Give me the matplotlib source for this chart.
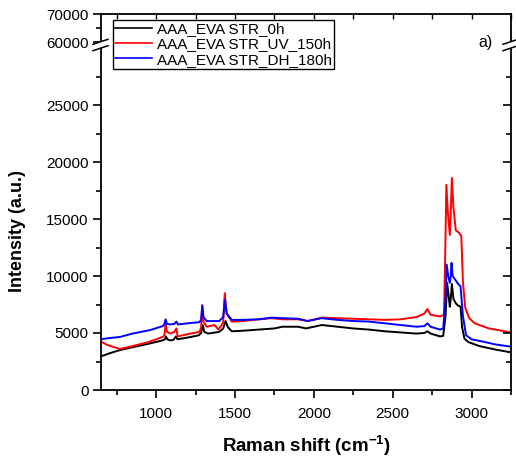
import matplotlib
matplotlib.use("Agg")
import matplotlib.pyplot as plt
from matplotlib.lines import Line2D
from matplotlib.ticker import MultipleLocator

plt.rcParams['font.family'] = ['Liberation Sans', 'DejaVu Sans']

# ---------------- data ----------------
x_0h = [650, 700, 770, 850, 950, 1040, 1055, 1062, 1070, 1090, 1110, 1125, 1135, 1200, 1270, 1285,
        1295, 1305, 1330, 1400, 1425, 1440, 1455, 1480, 1550, 1650, 1750, 1800, 1900, 1950, 2050,
        2150, 2250, 2350, 2450, 2550, 2650, 2700, 2720, 2740, 2800, 2820, 2835, 2845, 2855, 2862,
        2868, 2875, 2885, 2900, 2915, 2930, 2940, 2955, 2980, 3050, 3150, 3250]
y_0h = [2950, 3200, 3500, 3750, 4050, 4350, 4450, 4700, 4450, 4350, 4400, 4700, 4450, 4600, 4800, 5000,
        5700, 5100, 4950, 5100, 5400, 6050, 5500, 5150, 5200, 5300, 5400, 5550, 5550, 5400, 5700,
        5550, 5400, 5300, 5150, 5050, 4950, 5000, 5150, 4950, 4700, 4750, 6500, 9400, 8200, 7300,
        8000, 9300, 8000, 7600, 7400, 7300, 5500, 4500, 4200, 3850, 3550, 3300]

x_uv = [650, 690, 770, 850, 950, 1040, 1052, 1060, 1068, 1090, 1115, 1128, 1136, 1200, 1275, 1285,
        1292, 1300, 1320, 1370, 1395, 1425, 1435, 1447, 1480, 1550, 1650, 1735, 1800, 1900, 1960,
        2050, 2150, 2250, 2350, 2450, 2550, 2650, 2700, 2720, 2740, 2800, 2825, 2833, 2840, 2850,
        2862, 2868, 2875, 2885, 2900, 2920, 2935, 2945, 2960, 2985, 3020, 3110, 3250]
y_uv = [4250, 3950, 3600, 3850, 4200, 4650, 4800, 5850, 5100, 4950, 5100, 5400, 4700, 4900, 5100, 5500,
        7450, 6000, 5550, 5700, 5300, 5900, 8500, 6700, 6000, 6050, 6200, 6300, 6200, 6200, 6050,
        6350, 6300, 6250, 6200, 6150, 6200, 6400, 6700, 7100, 6600, 6450, 6600, 12000, 18000, 15500,
        13600, 15500, 18600, 16000, 14000, 13800, 13500, 9500, 7200, 6300, 5850, 5400, 5050]

x_dh = [650, 700, 770, 850, 960, 1040, 1050, 1060, 1068, 1090, 1115, 1128, 1138, 1200, 1275, 1285,
        1292, 1300, 1320, 1400, 1425, 1435, 1447, 1480, 1550, 1650, 1735, 1800, 1900, 1960, 2050,
        2150, 2250, 2350, 2450, 2550, 2650, 2700, 2720, 2740, 2800, 2820, 2835, 2842, 2852, 2862,
        2868, 2873, 2880, 2900, 2915, 2930, 2945, 2965, 3000, 3070, 3150, 3250]
y_dh = [4450, 4550, 4650, 4950, 5250, 5600, 5700, 6200, 5800, 5750, 5800, 6000, 5750, 5850, 5950, 6200,
        7400, 6400, 6050, 6050, 6400, 7900, 6700, 6150, 6150, 6200, 6350, 6300, 6250, 6050, 6300,
        6150, 6050, 6000, 5850, 5700, 5550, 5600, 5850, 5550, 5300, 5400, 8000, 11000, 10000, 9400,
        10000, 11150, 10000, 9600, 9300, 9100, 6500, 4800, 4450, 4250, 4000, 3800]

labels = ["AAA_EVA STR_0h", "AAA_EVA STR_UV_150h", "AAA_EVA STR_DH_180h"]
colors = ["black", "red", "blue"]

W, H = 516, 461
fig = plt.figure(figsize=(W / 100, H / 100), dpi=100)

def fx(px):
    return px / W

def fy(py):
    return 1 - py / H

left, right = 101, 511
ax = fig.add_axes([fx(left), fy(390), fx(right) - fx(left), fy(48) - fy(390)])
axt = fig.add_axes([fx(left), fy(42.5), fx(right) - fx(left), fy(14) - fy(42.5)])

series = [(x_0h, y_0h), (x_uv, y_uv), (x_dh, y_dh)]
handles = []
for (xs, ys), c, lab in zip(series, colors, labels):
    h, = ax.plot(xs, ys, color=c, lw=1.4, label=lab)
    handles.append(h)

for a in (ax, axt):
    a.set_xlim(650, 3250)
    for s in a.spines.values():
        s.set_linewidth(1.3)

ax.set_ylim(0, 30000)
axt.set_ylim(60000, 70000)

ax.spines['top'].set_visible(False)
axt.spines['bottom'].set_visible(False)

ax.xaxis.set_major_locator(MultipleLocator(500))
ax.xaxis.set_minor_locator(MultipleLocator(250))
ax.set_yticks([0, 5000, 10000, 15000, 20000, 25000])
ax.yaxis.set_minor_locator(MultipleLocator(2500))

ax.tick_params(axis='x', which='major', direction='out', length=6, width=1.2, labelsize=11, pad=6,
               top=False)
ax.tick_params(axis='x', which='minor', direction='out', length=3.5, width=1.2, top=False)
ax.tick_params(axis='y', which='major', direction='out', length=6, width=1.2, labelsize=11, pad=3,
               right=False)
ax.tick_params(axis='y', which='minor', direction='out', length=3.5, width=1.2, right=False)

# inward ticks on right spine
axr = ax.twinx()
axr.set_ylim(0, 30000)
axr.set_yticks([0, 5000, 10000, 15000, 20000, 25000])
axr.yaxis.set_minor_locator(MultipleLocator(2500))
axr.tick_params(axis='y', which='major', direction='in', length=6, width=1.2, labelright=False)
axr.tick_params(axis='y', which='minor', direction='in', length=3.5, width=1.2)
for s in axr.spines.values():
    s.set_visible(False)

axt.set_yticks([60000, 70000])
axt.yaxis.set_minor_locator(MultipleLocator(5000))
axt.tick_params(axis='y', which='major', direction='out', length=6, width=1.2, labelsize=11, pad=3)
axt.tick_params(axis='y', which='minor', direction='out', length=3.5, width=1.2)
axt.xaxis.set_major_locator(MultipleLocator(250))
axt.tick_params(axis='x', which='major', direction='in', length=3.5, width=1.0, top=True,
                bottom=False, labeltop=False, labelbottom=False)
axt.tick_params(axis='x', which='minor', bottom=False, top=False)

ax.set_xlabel("Raman shift (cm$^{\\mathregular{-1}}$)", fontsize=13.5, fontweight='bold', labelpad=9)
fig.text(fx(18), fy(231), "Intensity (a.u.)", rotation=90, fontsize=13, fontweight='bold',
         ha='center', va='center')

# axis break marks
for xc in (left, right):
    fig.patches.append(plt.Polygon([(fx(xc - 8), fy(44.3)), (fx(xc + 7), fy(39.3)),
                                    (fx(xc + 7), fy(45.7)), (fx(xc - 8), fy(50.7))],
                                   closed=True, transform=fig.transFigure, facecolor='white',
                                   edgecolor='none', zorder=5))
    for dy in (0, 6.4):
        fig.add_artist(Line2D([fx(xc - 8), fx(xc + 7)], [fy(44.3 + dy), fy(39.3 + dy)],
                              color='black', lw=1.1, transform=fig.transFigure, zorder=6))

leg = fig.legend(handles=handles, loc='upper left', bbox_to_anchor=(fx(113), fy(20)),
                 bbox_transform=fig.transFigure, borderaxespad=0, fontsize=11, frameon=True,
                 fancybox=False, edgecolor='black', framealpha=1, handlelength=2.4,
                 handletextpad=0.3, labelspacing=0.08, borderpad=0.15)
leg.get_frame().set_linewidth(1.0)
for ln in leg.get_lines():
    ln.set_linewidth(1.2)

fig.text(fx(478), fy(42), "a)", fontsize=11.5, ha='left', va='center')

fig.savefig("out.png", dpi=100)
